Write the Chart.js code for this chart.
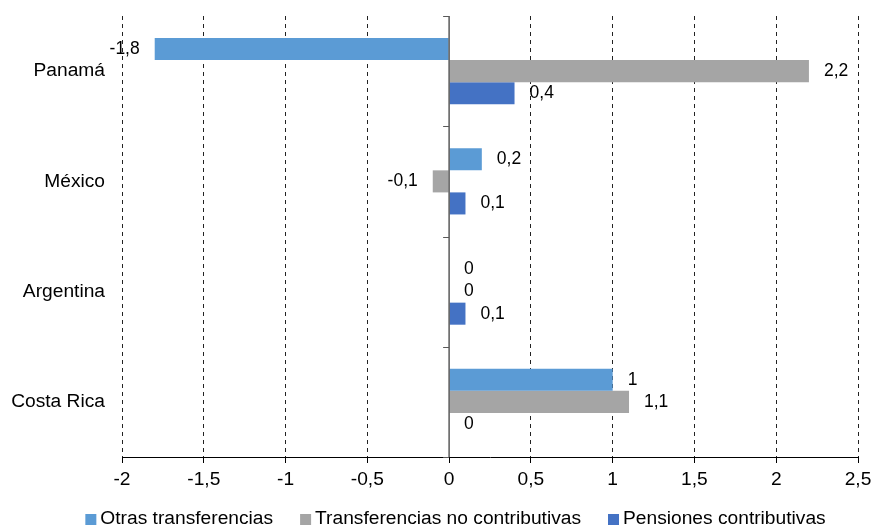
<!DOCTYPE html>
<html>
<head>
<meta charset="utf-8">
<script src="https://cdn.jsdelivr.net/npm/chart.js@4/dist/chart.umd.min.js"></script>
<style>
html,body{margin:0;padding:0;background:#fff;}
#wrap{width:877px;height:531px;position:relative;}
</style>
</head>
<body>
<div id="wrap"><canvas id="c" width="877" height="531"></canvas></div>
<script>
const categories = ["Panamá", "México", "Argentina", "Costa Rica"];
const seriesNames = ["Otras transferencias", "Transferencias no contributivas", "Pensiones contributivas"];
const otrasTransferencias = [-1.8, 0.2, 0, 1];
const transfNoContributivas = [2.2, -0.1, 0, 1.1];
const pensionesContributivas = [0.4, 0.1, 0.1, 0];
const xTicks = [-2, -1.5, -1, -0.5, 0, 0.5, 1, 1.5, 2, 2.5];
const colors = ["#5B9BD5", "#A5A5A5", "#4472C4"];

const FONT = '"Liberation Sans", Arial, sans-serif';
const fmt = v => String(v).replace('.', ',');

const zeroAxis = {
  id: 'zeroAxis',
  afterDatasetsDraw(chart) {
    const {ctx, chartArea, scales} = chart;
    const x0 = scales.x.getPixelForValue(0);
    ctx.save();
    ctx.strokeStyle = '#595959';
    ctx.lineWidth = 1.5;
    ctx.beginPath();
    ctx.moveTo(x0, chartArea.top);
    ctx.lineTo(x0, chartArea.bottom);
    ctx.stroke();
    const n = categories.length;
    const band = (chartArea.bottom - chartArea.top) / n;
    ctx.lineWidth = 1;
    for (let i = 0; i <= n; i++) {
      const y = Math.round(chartArea.top + band * i) + 0.5;
      ctx.beginPath();
      ctx.moveTo(x0 - 6, y);
      ctx.lineTo(x0, y);
      ctx.stroke();
    }
    ctx.restore();
  }
};

const labelsPlugin = {
  id: 'valueLabels',
  afterDatasetsDraw(chart) {
    const {ctx} = chart;
    ctx.save();
    ctx.font = '17.5px ' + FONT;
    ctx.fillStyle = '#000';
    ctx.textBaseline = 'middle';
    chart.data.datasets.forEach((ds, di) => {
      const meta = chart.getDatasetMeta(di);
      meta.data.forEach((el, i) => {
        const v = ds.data[i];
        if (v < 0) {
          ctx.textAlign = 'right';
          ctx.fillText(fmt(v), el.x - 15, el.y);
        } else {
          ctx.textAlign = 'left';
          ctx.fillText(fmt(v), el.x + 15, el.y);
        }
      });
    });
    ctx.restore();
  }
};

const legendPlugin = {
  id: 'customLegend',
  afterDraw(chart) {
    const {ctx} = chart;
    ctx.save();
    ctx.font = '19.2px ' + FONT;
    ctx.textBaseline = 'middle';
    ctx.textAlign = 'left';
    const box = 11, gapText = 4, gapItem = 27;
    const items = chart.data.datasets.map(ds => ({text: ds.label, color: ds.backgroundColor, w: ctx.measureText(ds.label).width}));
    let total = 0;
    items.forEach((it, i) => { total += box + gapText + it.w + (i < items.length - 1 ? gapItem : 0); });
    let x = 455.5 - total / 2;
    const yc = 519;
    items.forEach(it => {
      ctx.fillStyle = it.color;
      ctx.fillRect(x, yc - 5, box, box);
      x += box + gapText;
      ctx.fillStyle = '#000';
      ctx.fillText(it.text, x, yc);
      x += it.w + gapItem;
    });
    ctx.restore();
  }
};

new Chart(document.getElementById('c'), {
  type: 'bar',
  data: {
    labels: categories,
    datasets: [
      {label: seriesNames[0], data: otrasTransferencias, backgroundColor: colors[0]},
      {label: seriesNames[1], data: transfNoContributivas, backgroundColor: colors[1]},
      {label: seriesNames[2], data: pensionesContributivas, backgroundColor: colors[2]}
    ]
  },
  plugins: [zeroAxis, labelsPlugin, legendPlugin],
  options: {
    indexAxis: 'y',
    responsive: false,
    animation: false,
    devicePixelRatio: 1,
    categoryPercentage: 0.6,
    barPercentage: 1,
    layout: {padding: {top: 16, right: 19, left: 0, bottom: 39}},
    scales: {
      x: {
        type: 'linear',
        min: -2, max: 2.5,
        afterBuildTicks(scale) { scale.ticks = xTicks.map(v => ({value: v})); },
        afterFit(scale) { scale.height = 35; },
        ticks: {
          color: '#000',
          font: {family: FONT, size: 19.2},
          padding: 5,
          maxRotation: 0,
          callback: v => fmt(v)
        },
        grid: {
          color: ctx => (ctx.tick && ctx.tick.value === 0) ? 'rgba(0,0,0,0)' : '#222',
          lineWidth: 1,
          tickLength: 6,
          tickColor: '#000',
          tickBorderDash: []
        },
        border: {display: true, color: '#000', width: 1, dash: [4, 4]}
      },
      y: {
        type: 'category',
        afterFit(scale) { scale.width = 122; scale.paddingTop = 0; scale.paddingBottom = 0; },
        ticks: {
          color: '#000',
          font: {family: FONT, size: 19.2},
          padding: 17
        },
        grid: {display: false, drawTicks: false},
        border: {display: false}
      }
    },
    plugins: {
      tooltip: {enabled: false},
      legend: {display: false}
    }
  }
});
</script>
</body>
</html>
